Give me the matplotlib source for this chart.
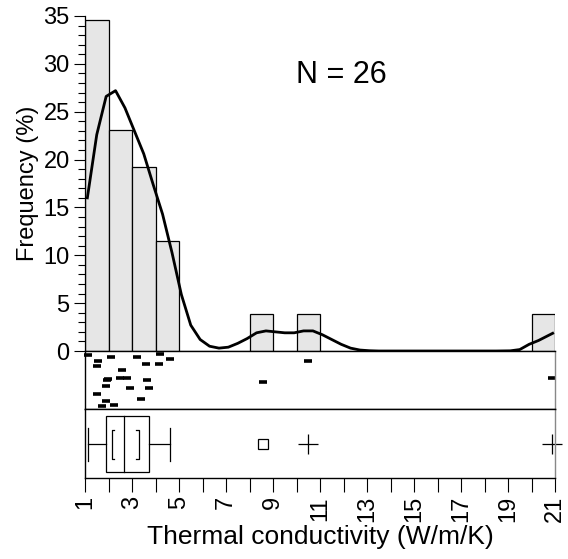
import numpy as np
import matplotlib.pyplot as plt

plt.rcParams['font.family'] = ['Liberation Sans', 'DejaVu Sans']

# Thermal conductivity values (W/m/K), one per sample
values = [1.11, 1.55, 1.50, 2.12, 3.23, 4.20, 4.62, 3.61, 4.16, 2.59, 1.92, 1.99, 1.88,
          2.49, 2.79, 3.65, 2.91, 3.72, 1.50, 1.91, 1.74, 2.22, 3.40, 8.59, 10.50, 20.86]
# vertical jitter of each point in the strip panel (0 = bottom, 1 = top)
jitter = [0.93, 0.82, 0.75, 0.89, 0.89, 0.94, 0.87, 0.77, 0.78, 0.68, 0.50, 0.52, 0.40,
          0.53, 0.53, 0.50, 0.36, 0.37, 0.26, 0.13, 0.06, 0.07, 0.17, 0.46, 0.82, 0.54]

# density curve (Frequency %)
curve_x = [1.1, 1.5, 1.9, 2.3, 2.7, 3.1, 3.5, 3.9, 4.3, 4.7, 5.1, 5.5, 5.9, 6.3, 6.7,
           7.1, 7.5, 7.9, 8.3, 8.7, 9.1, 9.5, 9.9, 10.3, 10.7, 11.1, 11.5, 11.9, 12.3,
           12.7, 13.1, 13.5, 14.5, 15.5, 16.5, 17.5, 18.5, 19.1, 19.5, 19.9, 20.3,
           20.7, 20.9]
curve_y = [16.0, 22.6, 26.6, 27.2, 25.4, 23.0, 20.6, 17.4, 14.3, 10.3, 5.9, 2.7, 1.2,
           0.5, 0.3, 0.4, 0.8, 1.3, 1.9, 2.1, 2.0, 1.9, 1.9, 2.1, 2.1, 1.7, 1.2, 0.7,
           0.3, 0.1, 0.03, 0.0, 0.0, 0.0, 0.0, 0.0, 0.0, 0.02, 0.15, 0.7, 1.1, 1.6, 1.85]

# box plot summary
whis_lo, q1, med, q3, whis_hi = 1.11, 1.91, 2.67, 3.74, 4.62
ci_lo, ci_hi = 2.13, 3.30
far_square = [8.59]
far_plus = [10.50, 20.86]

n = len(values)
W, H = 568, 559
fig = plt.figure(figsize=(W / 100, H / 100), dpi=100)

ax = fig.add_axes([85 / W, 1 - 351 / H, 470 / W, 335 / H])
ax_strip = fig.add_axes([85 / W, 1 - 409 / H, 470 / W, 58 / H], sharex=ax)
ax_box = fig.add_axes([85 / W, 1 - 478 / H, 470 / W, 69 / H], sharex=ax)

# histogram
ax.hist(values, bins=np.arange(1, 22), weights=[100 / n] * n,
        color='#e6e6e6', edgecolor='black', linewidth=0.9)
ax.plot(curve_x, curve_y, color='black', lw=2.0, solid_joinstyle='round')
ax.set_xlim(1, 21)
ax.set_ylim(0, 35)
ax.set_yticks(np.arange(0, 36, 5))
ax.set_yticks(np.arange(0, 36, 1), minor=True)
ax.tick_params(axis='y', which='major', length=8, width=0.8, labelsize=17, pad=3)
ax.tick_params(axis='y', which='minor', length=5, width=0.8)
ax.tick_params(axis='x', which='both', bottom=False, labelbottom=False)
for s in ['top', 'right', 'bottom']:
    ax.spines[s].set_visible(False)
ax.spines['left'].set_linewidth(0.9)
ax.set_ylabel('Frequency (%)', fontsize=17, labelpad=3)
ax.text(0.545, 0.825, 'N = 26', transform=ax.transAxes, fontsize=22, ha='center', va='center')

# strip of points
ax_strip.plot(values, jitter, ls='none', marker='_', ms=5.5, mew=2.6, color='black', clip_on=False)
ax_strip.set_ylim(0, 1)
ax_strip.set_yticks([])
ax_strip.tick_params(axis='x', which='both', bottom=False, labelbottom=False)

# box plot
yc = 0.49
ax_box.add_patch(plt.Rectangle((q1, 0.09), q3 - q1, 0.81, fill=False, ec='black', lw=0.9))
ax_box.plot([med, med], [0.09, 0.90], color='black', lw=0.9)
ax_box.plot([whis_lo, q1], [yc, yc], color='black', lw=0.9)
ax_box.plot([q3, whis_hi], [yc, yc], color='black', lw=0.9)
for w in [whis_lo, whis_hi]:
    ax_box.plot([w, w], [0.25, 0.72], color='black', lw=0.9)
# median confidence brackets
bw = 0.12
ax_box.plot([ci_lo + bw, ci_lo, ci_lo, ci_lo + bw], [0.28, 0.28, 0.69, 0.69], color='black', lw=0.9)
ax_box.plot([ci_hi - bw, ci_hi, ci_hi, ci_hi - bw], [0.28, 0.28, 0.69, 0.69], color='black', lw=0.9)
ax_box.plot(far_square, [yc] * len(far_square), ls='none', marker='s', ms=7,
            mfc='white', mec='black', mew=0.9)
ax_box.plot(far_plus, [yc] * len(far_plus), ls='none', marker='+', ms=14,
            mew=0.9, color='black', clip_on=False)
ax_box.set_ylim(0, 1)
ax_box.set_yticks([])
ax_box.set_xticks(np.arange(1, 22, 1))
ax_box.set_xticklabels([str(t) if t % 2 == 1 else '' for t in range(1, 22)], rotation=90)
ax_box.tick_params(axis='x', length=10, width=0.8, labelsize=17, pad=3)
ax_box.set_xlabel('Thermal conductivity (W/m/K)', fontsize=19, labelpad=2)

for a in [ax_strip, ax_box]:
    for s in ['top', 'bottom', 'left']:
        a.spines[s].set_linewidth(1.0)
    a.spines['right'].set_color('#888888')
    a.spines['right'].set_linewidth(1.0)

fig.savefig('out.png', dpi=100)
